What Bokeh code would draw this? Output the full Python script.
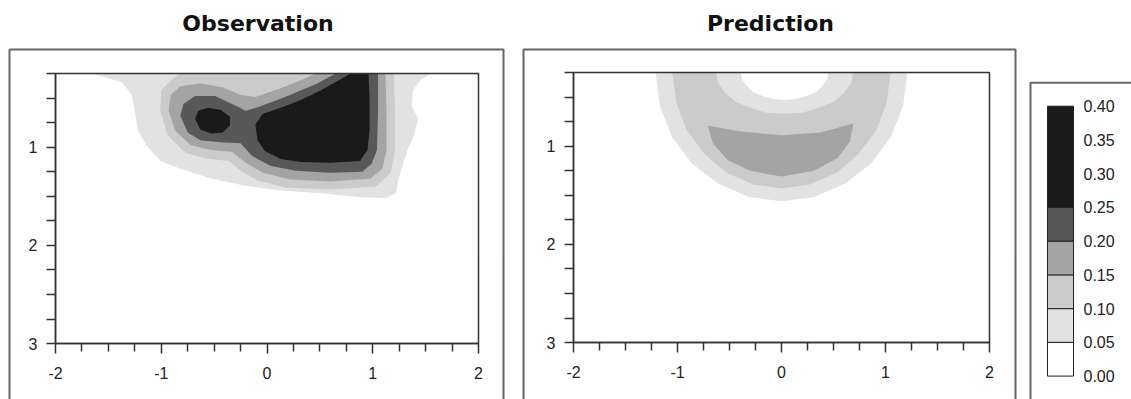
from bokeh.plotting import figure
from bokeh.models import Range1d, LinearAxis, FixedTicker, NumeralTickFormatter
from bokeh.layouts import row
from bokeh.embed import file_html
from bokeh.resources import INLINE

# ---------------- data ----------------
LEVELS = [0.00, 0.05, 0.10, 0.15, 0.20, 0.25, 0.40]
LEVEL_COLORS = ["#ffffff", "#e2e2e2", "#cbcbcb", "#a4a4a4", "#585858", "#1a1a1a"]
CBAR_TICKS = [0.00, 0.05, 0.10, 0.15, 0.20, 0.25, 0.30, 0.35, 0.40]

X_TICKS = [-2, -1, 0, 1, 2]
X_TICK_LABELS = {-2: "-2", -1: "-1", 0: "0", 1: "1", 2: "2"}
X_MINOR = [-1.75, -1.5, -1.25, -0.75, -0.5, -0.25, 0.25, 0.5, 0.75, 1.25, 1.5, 1.75]
Y_TICKS = [1, 2, 3]
Y_MINOR = [0.25, 0.5, 0.75, 1.25, 1.5, 1.75, 2.25, 2.5, 2.75]
X_LIM = (-2, 2)
DEPTH_LIM = (0.25, 3)

# Observation contour regions (outer boundary of each level band)
OBS_05_X = [-1.64, -1.53, -1.37, -1.28, -1.25, -1.22, -1.14, -1.01, -0.82, -0.53, -0.22, 0.10, 0.51,
            0.88, 1.12, 1.22, 1.24, 1.28, 1.33, 1.39, 1.43, 1.37, 1.38, 1.45, 1.55]
OBS_05_Y = [0.25, 0.29, 0.34, 0.47, 0.63, 0.83, 0.98, 1.14, 1.22, 1.32, 1.39, 1.44, 1.47,
            1.51, 1.52, 1.47, 1.34, 1.19, 1.03, 0.88, 0.71, 0.58, 0.42, 0.32, 0.25]
OBS_10_X = [-1.01, -1.00, -0.89, -0.82, 1.20, 1.21, 1.21, 1.17, 1.03, 0.60, 0.17, -0.09, -0.25,
            -0.36, -0.55, -0.77, -0.94]
OBS_10_Y = [0.63, 0.42, 0.30, 0.25, 0.25, 0.63, 1.03, 1.26, 1.40, 1.43, 1.41, 1.34, 1.24,
            1.14, 1.12, 1.06, 0.88]
OBS_15_X = [-0.93, -0.91, -0.82, -0.63, -0.42, -0.25, -0.11, 0.13, 0.32, 0.46, 1.12, 1.13, 1.13,
            1.09, 0.98, 0.60, 0.22, -0.04, -0.20, -0.33, -0.53, -0.72, -0.87]
OBS_15_Y = [0.63, 0.47, 0.38, 0.35, 0.39, 0.47, 0.49, 0.40, 0.32, 0.25, 0.25, 0.63, 1.03,
            1.22, 1.32, 1.35, 1.33, 1.26, 1.16, 1.05, 1.03, 0.98, 0.83]
OBS_20_X = [-0.82, -0.79, -0.68, -0.49, -0.33, -0.20, -0.08, 0.17, 0.46, 0.65, 1.05, 1.05, 1.04,
            0.99, 0.90, 0.60, 0.27, 0.03, -0.14, -0.25, -0.44, -0.63, -0.75]
OBS_20_Y = [0.68, 0.56, 0.48, 0.48, 0.56, 0.63, 0.59, 0.49, 0.36, 0.25, 0.25, 0.63, 1.03,
            1.17, 1.25, 1.26, 1.24, 1.19, 1.09, 0.96, 0.95, 0.93, 0.85]
OBS_25A_X = [-0.68, -0.65, -0.56, -0.44, -0.35, -0.35, -0.42, -0.53, -0.63]
OBS_25A_Y = [0.71, 0.63, 0.60, 0.62, 0.69, 0.78, 0.85, 0.86, 0.82]
OBS_25B_X = [0.79, 0.96, 0.97, 0.97, 0.95, 0.88, 0.60, 0.32, 0.13, -0.02, -0.09, -0.11, -0.04,
             0.13, 0.32, 0.51, 0.68]
OBS_25B_Y = [0.25, 0.25, 0.52, 0.83, 1.03, 1.14, 1.16, 1.15, 1.12, 1.04, 0.93, 0.77, 0.66,
             0.60, 0.52, 0.42, 0.32]

# Prediction contour regions
PRED_05_X = [-1.21, -1.17, -1.05, -0.86, -0.61, -0.31, 0.0, 0.31, 0.61, 0.86, 1.05, 1.17, 1.21]
PRED_05_Y = [0.25, 0.59, 0.91, 1.18, 1.38, 1.52, 1.56, 1.52, 1.38, 1.18, 0.91, 0.59, 0.25]
PRED_10_X = [-1.05, -1.01, -0.91, -0.74, -0.53, -0.27, 0.0, 0.27, 0.53, 0.74, 0.91, 1.01, 1.05]
PRED_10_Y = [0.25, 0.56, 0.84, 1.08, 1.27, 1.39, 1.43, 1.39, 1.27, 1.08, 0.84, 0.56, 0.25]
PRED_IN10_X = [-0.63, -0.61, -0.54, -0.44, -0.30, -0.14, 0.03, 0.20, 0.36, 0.50, 0.60, 0.67, 0.69]
PRED_IN10_Y = [0.25, 0.36, 0.46, 0.55, 0.61, 0.66, 0.67, 0.66, 0.61, 0.55, 0.46, 0.36, 0.25]
PRED_IN05_X = [-0.39, -0.38, -0.33, -0.27, -0.18, -0.08, 0.03, 0.14, 0.24, 0.33, 0.39, 0.44, 0.45]
PRED_IN05_Y = [0.25, 0.32, 0.39, 0.45, 0.49, 0.52, 0.53, 0.52, 0.49, 0.45, 0.39, 0.32, 0.25]
PRED_15_X = [-0.71, -0.39, 0.0, 0.375, 0.69, 0.66, 0.54, 0.31, 0.0, -0.30, -0.52, -0.66]
PRED_15_Y = [0.79, 0.85, 0.89, 0.86, 0.77, 0.95, 1.12, 1.25, 1.31, 1.25, 1.14, 0.97]

FONT = "Liberation Sans"
TITLE_FONT = "DejaVu Sans"
H = 399
TOP = 40


def panel(title, width, plot_left_px, px_per_x, top_px, px_per_y, box_l_px, box_r_px, box_t_px):
    x0 = X_LIM[0] - plot_left_px / px_per_x
    xr = Range1d(x0, x0 + width / px_per_x)
    yr = Range1d(DEPTH_LIM[0] + (H - top_px) / px_per_y, DEPTH_LIM[0] - (top_px - TOP) / px_per_y)
    p = figure(width=width, height=H, x_range=xr, y_range=yr, output_backend="svg",
               toolbar_location=None, x_axis_type=None, y_axis_type=None,
               min_border_left=0, min_border_right=0, min_border_top=TOP, min_border_bottom=0,
               title=title)
    p.outline_line_color = None
    p.background_fill_color = "white"
    p.border_fill_color = "white"
    p.title.align = "center"
    p.title.text_font = TITLE_FONT
    p.title.text_font_size = "22px"
    p.title.text_font_style = "bold"
    p.title.text_color = "#111111"

    # outer frame
    p.quad(left=x0 + box_l_px / px_per_x, right=x0 + box_r_px / px_per_x,
           top=DEPTH_LIM[0] - (top_px - box_t_px) / px_per_y, bottom=yr.start + 1,
           fill_color=None, line_color="#666666", line_width=2)

    def style(ax):
        ax.axis_line_color = "#333333"
        ax.axis_line_width = 1.5
        ax.major_tick_line_color = "#333333"
        ax.major_tick_line_width = 1.5
        ax.minor_tick_line_color = "#333333"
        ax.minor_tick_line_width = 1.5
        ax.major_tick_in = 0
        ax.minor_tick_in = 0
        ax.major_label_text_font = FONT
        ax.major_label_text_font_size = "16px"
        ax.major_label_text_color = "#222222"

    yax = LinearAxis(fixed_location=X_LIM[0], bounds=DEPTH_LIM,
                     ticker=FixedTicker(ticks=Y_TICKS, minor_ticks=Y_MINOR))
    style(yax)
    yax.major_tick_out = 9
    yax.minor_tick_out = 9
    yax.major_label_standoff = 9
    p.add_layout(yax, "left")

    xax = LinearAxis(fixed_location=DEPTH_LIM[1], bounds=X_LIM,
                     ticker=FixedTicker(ticks=X_TICKS, minor_ticks=X_MINOR))
    style(xax)
    xax.major_tick_out = 10
    xax.minor_tick_out = 8
    xax.major_label_standoff = 13
    xax.major_label_overrides = X_TICK_LABELS
    p.add_layout(xax, "below")
    return p


def plot_border(p):
    p.quad(left=X_LIM[0], right=X_LIM[1], top=DEPTH_LIM[0], bottom=DEPTH_LIM[1],
           fill_color=None, line_color="#333333", line_width=1.5)


# ---------------- Observation ----------------
p1 = panel("Observation", 515, 55, 105.75, 73, 98.2, 9, 503, 49)
p1.patches(xs=[OBS_05_X, OBS_10_X, OBS_15_X, OBS_20_X, OBS_25A_X, OBS_25B_X],
           ys=[OBS_05_Y, OBS_10_Y, OBS_15_Y, OBS_20_Y, OBS_25A_Y, OBS_25B_Y],
           fill_color=[LEVEL_COLORS[1], LEVEL_COLORS[2], LEVEL_COLORS[3], LEVEL_COLORS[4],
                       LEVEL_COLORS[5], LEVEL_COLORS[5]],
           line_color=None)
plot_border(p1)

# ---------------- Prediction ----------------
p2 = panel("Prediction", 510, 58, 104.0, 72, 98.2, 8, 500, 49)
p2.patches(xs=[PRED_05_X, PRED_10_X, PRED_IN10_X, PRED_IN05_X, PRED_15_X],
           ys=[PRED_05_Y, PRED_10_Y, PRED_IN10_Y, PRED_IN05_Y, PRED_15_Y],
           fill_color=[LEVEL_COLORS[1], LEVEL_COLORS[2], LEVEL_COLORS[1], LEVEL_COLORS[0],
                       LEVEL_COLORS[3]],
           line_color=None)
plot_border(p2)

# ---------------- Colour bar ----------------
CB_W = 106
BAR_L_PX, BAR_W_PX = 22, 26
BAR_TOP_PX, BAR_BOT_PX = 73, 373
ppv = (BAR_BOT_PX - BAR_TOP_PX) / (LEVELS[-1] - LEVELS[0])
cxr = Range1d(-BAR_L_PX / BAR_W_PX, (CB_W - BAR_L_PX) / BAR_W_PX)
cyr = Range1d(LEVELS[0] - (H - BAR_BOT_PX) / ppv, LEVELS[-1] + BAR_TOP_PX / ppv)
p3 = figure(width=CB_W, height=H, x_range=cxr, y_range=cyr, output_backend="svg",
            toolbar_location=None, x_axis_type=None, y_axis_type=None,
            min_border_left=0, min_border_right=0, min_border_top=0, min_border_bottom=0)
p3.outline_line_color = None
p3.quad(left=cxr.start + 5 / BAR_W_PX, right=cxr.end + 1, top=LEVELS[-1] + (BAR_TOP_PX - 47) / ppv,
        bottom=cyr.start - 1, fill_color=None, line_color="#666666", line_width=2)
p3.quad(left=0, right=1, bottom=LEVELS[:-1], top=LEVELS[1:], fill_color=LEVEL_COLORS,
        line_color="#222222", line_width=1)
cax = LinearAxis(fixed_location=1, bounds=(LEVELS[0], LEVELS[-1]),
                 ticker=FixedTicker(ticks=CBAR_TICKS, minor_ticks=[]),
                 formatter=NumeralTickFormatter(format="0.00"))
cax.axis_line_color = None
cax.major_tick_out = 0
cax.major_tick_in = 0
cax.minor_tick_out = 0
cax.major_label_standoff = 10
cax.major_label_text_font = FONT
cax.major_label_text_font_size = "16px"
cax.major_label_text_color = "#222222"
p3.add_layout(cax, "right")

layout = row(p1, p2, p3, spacing=0)
open("out.html", "w").write(file_html(layout, INLINE))
